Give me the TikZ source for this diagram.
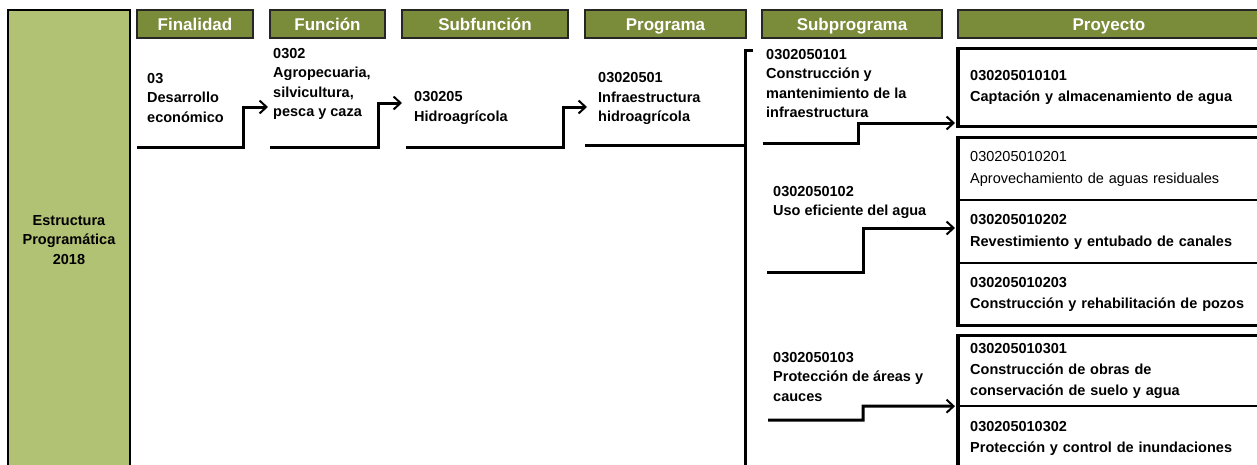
\documentclass[tikz,border=0pt]{standalone}
\usepackage{fontspec}
\setmainfont{Liberation Sans}
\usetikzlibrary{arrows.meta}
\definecolor{hdrgreen}{RGB}{122,139,58}
\definecolor{sidegreen}{RGB}{177,194,116}
\begin{document}
\begin{tikzpicture}[x=1pt,y=-1pt,
  hdr/.style={draw=black!85, line width=1.5pt, fill=hdrgreen, text=white,
    font=\bfseries\fontsize{17}{20}\selectfont, inner sep=0, minimum height=28pt,
    text height=14.5pt, text depth=1.5pt},
  txt/.style={anchor=west, align=left, inner sep=0,
    font=\bfseries\fontsize{14.5}{19.5}\selectfont},
  prow/.style={anchor=west, align=left, inner xsep=12pt, inner ysep=0,
    text width=290pt, font=\bfseries\fontsize{14.5}{21}\selectfont},
  conn/.style={line width=3pt, shorten >=2pt,
    -{Straight Barb[length=7pt,width=13pt,line width=2pt]}},
  bar/.style={line width=3pt},
  outer/.style={line width=3.2pt},
  inner/.style={line width=2pt}
]
\useasboundingbox (0,0) rectangle (1257,464);
\clip (0,0) rectangle (1257,464);

% left side box
\node[draw=black, line width=1.5pt, fill=sidegreen, minimum width=122pt,
  minimum height=460pt, inner sep=0, align=center,
  font=\bfseries\fontsize{14.5}{19.5}\selectfont] (side) at (69,240)
  {Estructura\\Programática\\2018};

% headers
\node[hdr, minimum width=116pt] (hfin) at (195,24) {Finalidad};
\node[hdr, minimum width=115pt] (hfun) at (327.5,24) {Función};
\node[hdr, minimum width=166pt] (hsub) at (485,24) {Subfunción};
\node[hdr, minimum width=161pt] (hprog) at (665.5,24) {Programa};
\node[hdr, minimum width=180pt] (hsp) at (852,24) {Subprograma};
\node[hdr, minimum width=302pt] (hproy) at (1109,24) {Proyecto};

% level texts
\node[txt] (fin) at (147,98) {03\\Desarrollo\\económico};
\node[txt] (fun) at (273,84) {0302\\Agropecuaria,\\silvicultura,\\pesca y caza};
\node[txt] (subf) at (414,108) {030205\\Hidroagrícola};
\node[txt] (prog) at (598,98.5) {03020501\\Infraestructura\\hidroagrícola};
\node[txt] (sp1) at (766,83.5) {0302050101\\Construcción y\\mantenimiento de la\\infraestructura};
\node[txt] (sp2) at (773,202.5) {0302050102\\Uso eficiente del agua};
\node[txt] (sp3) at (773,376.5) {0302050103\\Protección de áreas y\\cauces};

% project rows
\node[prow, minimum height=77pt] (p1) at (958,87.5) {030205010101\\Captación y almacenamiento de agua};
\node[prow, minimum height=62pt, font=\fontsize{14.5}{22}\selectfont] (p21) at (958,169) {030205010201\\Aprovechamiento de aguas residuales};
\node[prow, minimum height=63pt, font=\bfseries\fontsize{14.5}{22}\selectfont] (p22) at (958,231.5) {030205010202\\Revestimiento y entubado de canales};
\node[prow, minimum height=62pt] (p23) at (958,294) {030205010203\\Construcción y rehabilitación de pozos};
\node[prow, minimum height=70pt] (p31) at (958,371) {030205010301\\Construcción de obras de\\conservación de suelo y agua};
\node[prow, minimum height=64pt] (p32) at (958,438) {030205010302\\Protección y control de inundaciones};

% project outlines
\draw[outer] (p1.north east) -- (p1.north west) -- (p1.south west) -- (p1.south east);
\draw[outer] (p21.north east) -- (p21.north west) -- (p23.south west) -- (p23.south east);
\draw[inner] (p21.south west) -- (p21.south east);
\draw[inner] (p22.south west) -- (p22.south east);
\draw[outer] (p31.north east) -- (p31.north west) -- (p32.south west);
\draw[inner] (p31.south west) -- (p31.south east);

% connectors
\coordinate (c1s) at (137,147);  \coordinate (c1k) at (243,107);
\coordinate (c2s) at (270,147);  \coordinate (c2k) at (378,103);
\coordinate (c3s) at (406,147);  \coordinate (c3k) at (563,107);
\coordinate (c4s) at (763,143);  \coordinate (c4k) at (858,123);
\coordinate (c5s) at (767,272);  \coordinate (c5k) at (863,228);
\coordinate (c6s) at (768,420);  \coordinate (c6k) at (863,406);
\draw[conn, shorten >=5pt] (c1s) -| (c1k) -- (fun.west |- c1k);
\draw[conn, shorten >=12pt] (c2s) -| (c2k) -- (subf.west |- c2k);
\draw[conn, shorten >=11pt] (c3s) -| (c3k) -- (prog.west |- c3k);
\draw[conn, shorten >=3pt] (c4s) -| (c4k) -- (p1.west |- c4k);
\draw[conn, shorten >=3pt] (c5s) -| (c5k) -- (p22.west |- c5k);
\draw[conn, shorten >=3pt] (c6s) -| (c6k) -- (p31.south west);

% programa bracket
\coordinate (brt) at (745,50);
\coordinate (brs) at (585,145);
\draw[bar] (brs) -- (brt |- brs);
\draw[bar] ([xshift=8pt]brt) -- (brt) -- (brt |- 0,470);
\end{tikzpicture}
\end{document}
